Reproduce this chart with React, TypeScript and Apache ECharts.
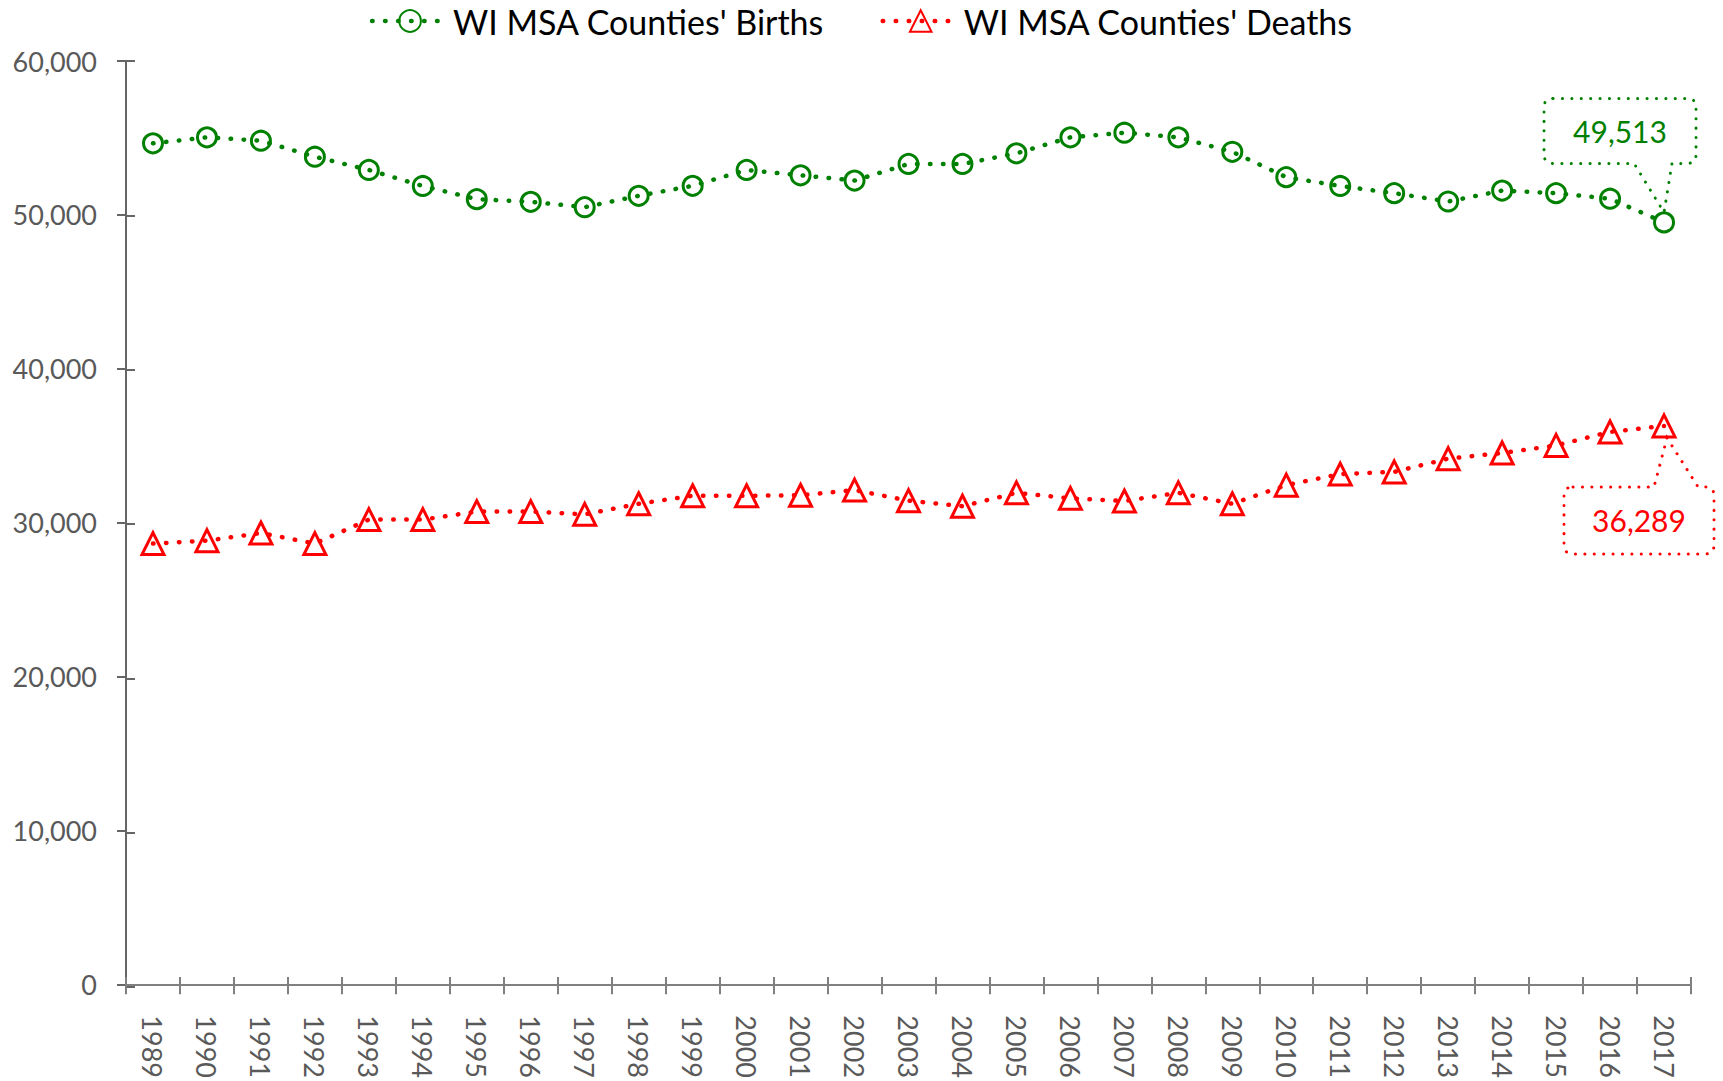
import React, { useEffect, useRef } from "react";
import * as echarts from "echarts";

const years = [
  "1989", "1990", "1991", "1992", "1993", "1994", "1995", "1996", "1997", "1998",
  "1999", "2000", "2001", "2002", "2003", "2004", "2005", "2006", "2007", "2008",
  "2009", "2010", "2011", "2012", "2013", "2014", "2015", "2016", "2017",
];

const births = [
  54650, 55040, 54820, 53780, 52920, 51880, 51020, 50850, 50500, 51240,
  51890, 52920, 52570, 52230, 53310, 53310, 54000, 55040, 55340, 55040,
  54100, 52450, 51880, 51410, 50870, 51580, 51410, 51050, 49513,
];

const deaths = [
  28640, 28830, 29330, 28640, 30200, 30200, 30720, 30720, 30540, 31230,
  31750, 31750, 31780, 32120, 31430, 31070, 31940, 31580, 31410, 31940,
  31230, 32440, 33160, 33300, 34160, 34530, 35020, 35900, 36289,
];

const seriesNames = ["WI MSA Counties' Births", "WI MSA Counties' Deaths"];
const yMin = 0;
const yMax = 60000;
const yInterval = 10000;

const GREEN = "#008000";
const RED = "#FF0000";
const FONT = "Lato, 'Open Sans', sans-serif";
const AXIS_GRAY = "#666666";
const XAXIS_GRAY = "#808080";
const LABEL_GRAY = "#595959";

const fmt = (v: number) => v.toLocaleString("en-US");

function roundedCallout(
  L: number, R: number, T: number, B: number, r: number,
  side: "bottom" | "top", pA: number, pB: number, tipX: number, tipY: number
) {
  if (side === "bottom") {
    return `M${L + r},${T} H${R - r} Q${R},${T} ${R},${T + r} V${B - r} Q${R},${B} ${R - r},${B} H${pB} L${tipX},${tipY} L${pA},${B} H${L + r} Q${L},${B} ${L},${B - r} V${T + r} Q${L},${T} ${L + r},${T} Z`;
  }
  return `M${L + r},${T} H${pA} L${tipX},${tipY} L${pB},${T} H${R - r} Q${R},${T} ${R},${T + r} V${B - r} Q${R},${B} ${R - r},${B} H${L + r} Q${L},${B} ${L},${B - r} V${T + r} Q${L},${T} ${L + r},${T} Z`;
}

function makeCallout(color: string, box: { L: number; R: number; T: number; B: number; side: "bottom" | "top"; pA: number; pB: number; tipX: number; tipY: number }) {
  return (params: any, api: any) => {
    const p = api.coord([api.value(0), api.value(1)]);
    const d = roundedCallout(box.L, box.R, box.T, box.B, 9, box.side, box.pA, box.pB, box.tipX, box.tipY);
    return {
      type: "group",
      x: p[0],
      y: p[1],
      children: [
        {
          type: "path",
          shape: { pathData: d },
          style: { fill: "none", stroke: color, lineWidth: 3, lineDash: [0.1, 9.3], lineCap: "round" },
        },
        {
          type: "text",
          x: (box.L + box.R) / 2,
          y: (box.T + box.B) / 2,
          style: {
            text: fmt(api.value(1)),
            fill: color,
            fontSize: 30,
            fontFamily: FONT,
            align: "center",
            verticalAlign: "middle",
          },
        },
      ],
    };
  };
}

export default function App() {
  const ref = useRef<HTMLDivElement>(null);

  useEffect(() => {
    if (!ref.current) return;
    const chart = echarts.init(ref.current, null, { renderer: "svg" });
    const last = years.length - 1;
    const gridBox = { left: 126, right: 32, top: 61, bottom: 94 };

    chart.setOption({
      animation: false,
      legend: {
        top: 4,
        padding: 0,
        left: "center",
        itemWidth: 76,
        itemHeight: 27,
        itemGap: 56,
        data: seriesNames,
        lineStyle: { width: 4.5 },
        textStyle: { fontSize: 34, color: "#000000", fontFamily: FONT },
      },
      grid: [
        { ...gridBox, containLabel: false },
        { ...gridBox, containLabel: false },
      ],
      xAxis: [
        {
          type: "category",
          gridIndex: 0,
          data: years,
          boundaryGap: true,
          axisLine: { show: true, lineStyle: { color: XAXIS_GRAY, width: 2 } },
          axisTick: { show: true, length: 10, lineStyle: { color: XAXIS_GRAY, width: 2 } },
          axisLabel: { rotate: -90, margin: 31, fontSize: 27, color: LABEL_GRAY, fontFamily: FONT, interval: 0 },
          splitLine: { show: false },
        },
        {
          type: "category",
          gridIndex: 1,
          data: years,
          boundaryGap: true,
          axisLine: { show: false },
          axisTick: { show: true, inside: true, length: 10, lineStyle: { color: XAXIS_GRAY, width: 2 } },
          axisLabel: { show: false },
          splitLine: { show: false },
        },
      ],
      yAxis: [
        {
          type: "value",
          gridIndex: 0,
          min: yMin,
          max: yMax,
          interval: yInterval,
          axisLine: { show: true, lineStyle: { color: AXIS_GRAY, width: 2 } },
          axisTick: { show: true, length: 9, lineStyle: { color: AXIS_GRAY, width: 2 } },
          axisLabel: { margin: 29, fontSize: 27, color: LABEL_GRAY, fontFamily: FONT, formatter: (v: number) => fmt(v) },
          splitLine: { show: false },
        },
        {
          type: "value",
          gridIndex: 1,
          min: yMin,
          max: yMax,
          interval: yInterval,
          axisLine: { show: false },
          axisTick: { show: true, inside: true, length: 9, lineStyle: { color: AXIS_GRAY, width: 2 } },
          axisLabel: { show: false },
          splitLine: { show: false },
        },
      ],
      series: [
        {
          name: seriesNames[0],
          type: "line",
          data: births,
          symbol: "circle",
          symbolSize: 19,
          itemStyle: { color: "rgba(0,0,0,0)", borderColor: GREEN, borderWidth: 3 },
          lineStyle: { color: GREEN, width: 4.5, type: [0.5, 12.5], cap: "round" },
          emphasis: { disabled: true },
          z: 3,
        },
        {
          name: seriesNames[1],
          type: "line",
          data: deaths,
          symbol: "triangle",
          symbolSize: [22, 22],
          itemStyle: { color: "rgba(0,0,0,0)", borderColor: RED, borderWidth: 3 },
          lineStyle: { color: RED, width: 4.5, type: [0.5, 12.5], cap: "round" },
          emphasis: { disabled: true },
          z: 3,
        },
        {
          type: "custom",
          coordinateSystem: "cartesian2d",
          clip: false,
          silent: true,
          z: 5,
          data: [[last, births[last]]],
          renderItem: makeCallout(GREEN, { L: -120, R: 32, T: -124, B: -59, side: "bottom", pA: -30, pB: 8, tipX: 0, tipY: -10 }),
        },
        {
          type: "custom",
          coordinateSystem: "cartesian2d",
          clip: false,
          silent: true,
          z: 5,
          data: [[last, deaths[last]]],
          renderItem: makeCallout(RED, { L: -100, R: 50, T: 61, B: 128, side: "top", pA: -10, pB: 34, tipX: 3, tipY: 12 }),
        },
      ],
    });

    return () => chart.dispose();
  }, []);

  return (
    <div
      ref={ref}
      style={{ position: "fixed", left: 0, top: 0, width: 1723, height: 1081, background: "#ffffff" }}
    />
  );
}
